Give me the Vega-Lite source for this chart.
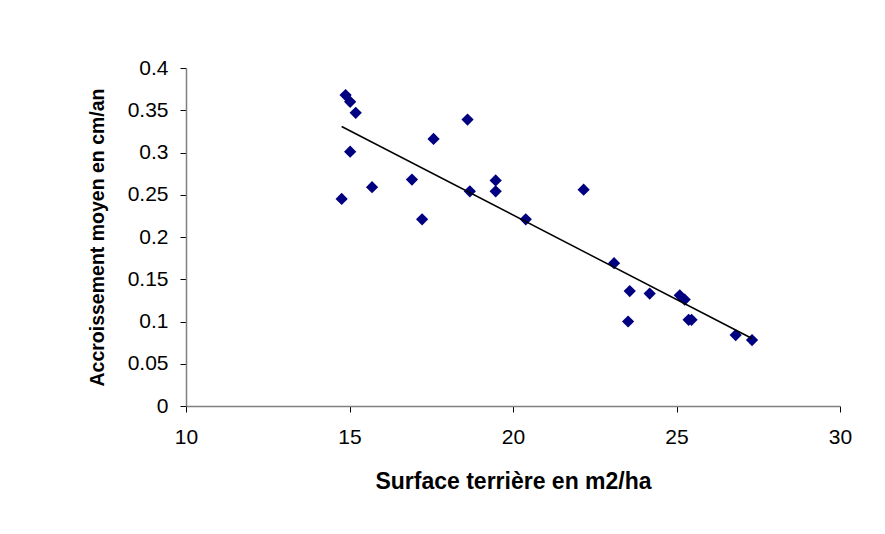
{
  "$schema": "https://vega.github.io/schema/vega-lite/v6.json",
  "autosize": "none",
  "padding": {"left": 186, "top": 68, "right": 45, "bottom": 128},
  "width": 654,
  "height": 338,
  "background": "white",
  "config": {
    "view": {"stroke": null},
    "font": "Liberation Sans",
    "axis": {
      "grid": false,
      "labelFlush": false,
      "domainColor": "#808080",
      "domainWidth": 1.5,
      "tickColor": "#000000",
      "tickSize": 6,
      "labelFont": "Liberation Sans",
      "labelFontSize": 21,
      "labelColor": "#000000",
      "titleFont": "Liberation Sans",
      "titleFontWeight": "bold",
      "titleColor": "#000000"
    }
  },
  "data": {
    "values": [
      {"surface": 14.88, "accroissement": 0.368},
      {"surface": 15.02, "accroissement": 0.360},
      {"surface": 15.19, "accroissement": 0.347},
      {"surface": 15.02, "accroissement": 0.301},
      {"surface": 14.76, "accroissement": 0.245},
      {"surface": 15.69, "accroissement": 0.259},
      {"surface": 16.91, "accroissement": 0.268},
      {"surface": 17.22, "accroissement": 0.221},
      {"surface": 17.57, "accroissement": 0.316},
      {"surface": 18.61, "accroissement": 0.339},
      {"surface": 18.68, "accroissement": 0.254},
      {"surface": 19.47, "accroissement": 0.267},
      {"surface": 19.47, "accroissement": 0.254},
      {"surface": 20.39, "accroissement": 0.221},
      {"surface": 22.16, "accroissement": 0.256},
      {"surface": 23.09, "accroissement": 0.169},
      {"surface": 23.57, "accroissement": 0.136},
      {"surface": 24.18, "accroissement": 0.133},
      {"surface": 23.52, "accroissement": 0.100},
      {"surface": 25.10, "accroissement": 0.131},
      {"surface": 25.25, "accroissement": 0.126},
      {"surface": 25.37, "accroissement": 0.102},
      {"surface": 25.46, "accroissement": 0.102},
      {"surface": 26.81, "accroissement": 0.084},
      {"surface": 27.31, "accroissement": 0.078}
    ]
  },
  "layer": [
    {
      "mark": {"type": "point", "shape": "diamond", "filled": true, "color": "#000080", "size": 150, "opacity": 1},
      "encoding": {
        "x": {
          "field": "surface", "type": "quantitative",
          "scale": {"domain": [10, 30], "nice": false, "zero": false},
          "axis": {"values": [10, 15, 20, 25, 30], "title": "Surface terrière en m2/ha", "titleFontSize": 23, "labelPadding": 14, "titlePadding": 23}
        },
        "y": {
          "field": "accroissement", "type": "quantitative",
          "scale": {"domain": [0, 0.4], "nice": false},
          "axis": {"values": [0, 0.05, 0.1, 0.15, 0.2, 0.25, 0.3, 0.35, 0.4], "format": "~g", "title": "Accroissement moyen en cm/an", "titleFontSize": 19.5, "labelPadding": 12, "titlePadding": 20}
        }
      }
    },
    {
      "transform": [{"regression": "accroissement", "on": "surface"}],
      "mark": {"type": "line", "color": "#000000", "strokeWidth": 1.5},
      "encoding": {
        "x": {"field": "surface", "type": "quantitative"},
        "y": {"field": "accroissement", "type": "quantitative"}
      }
    }
  ]
}
